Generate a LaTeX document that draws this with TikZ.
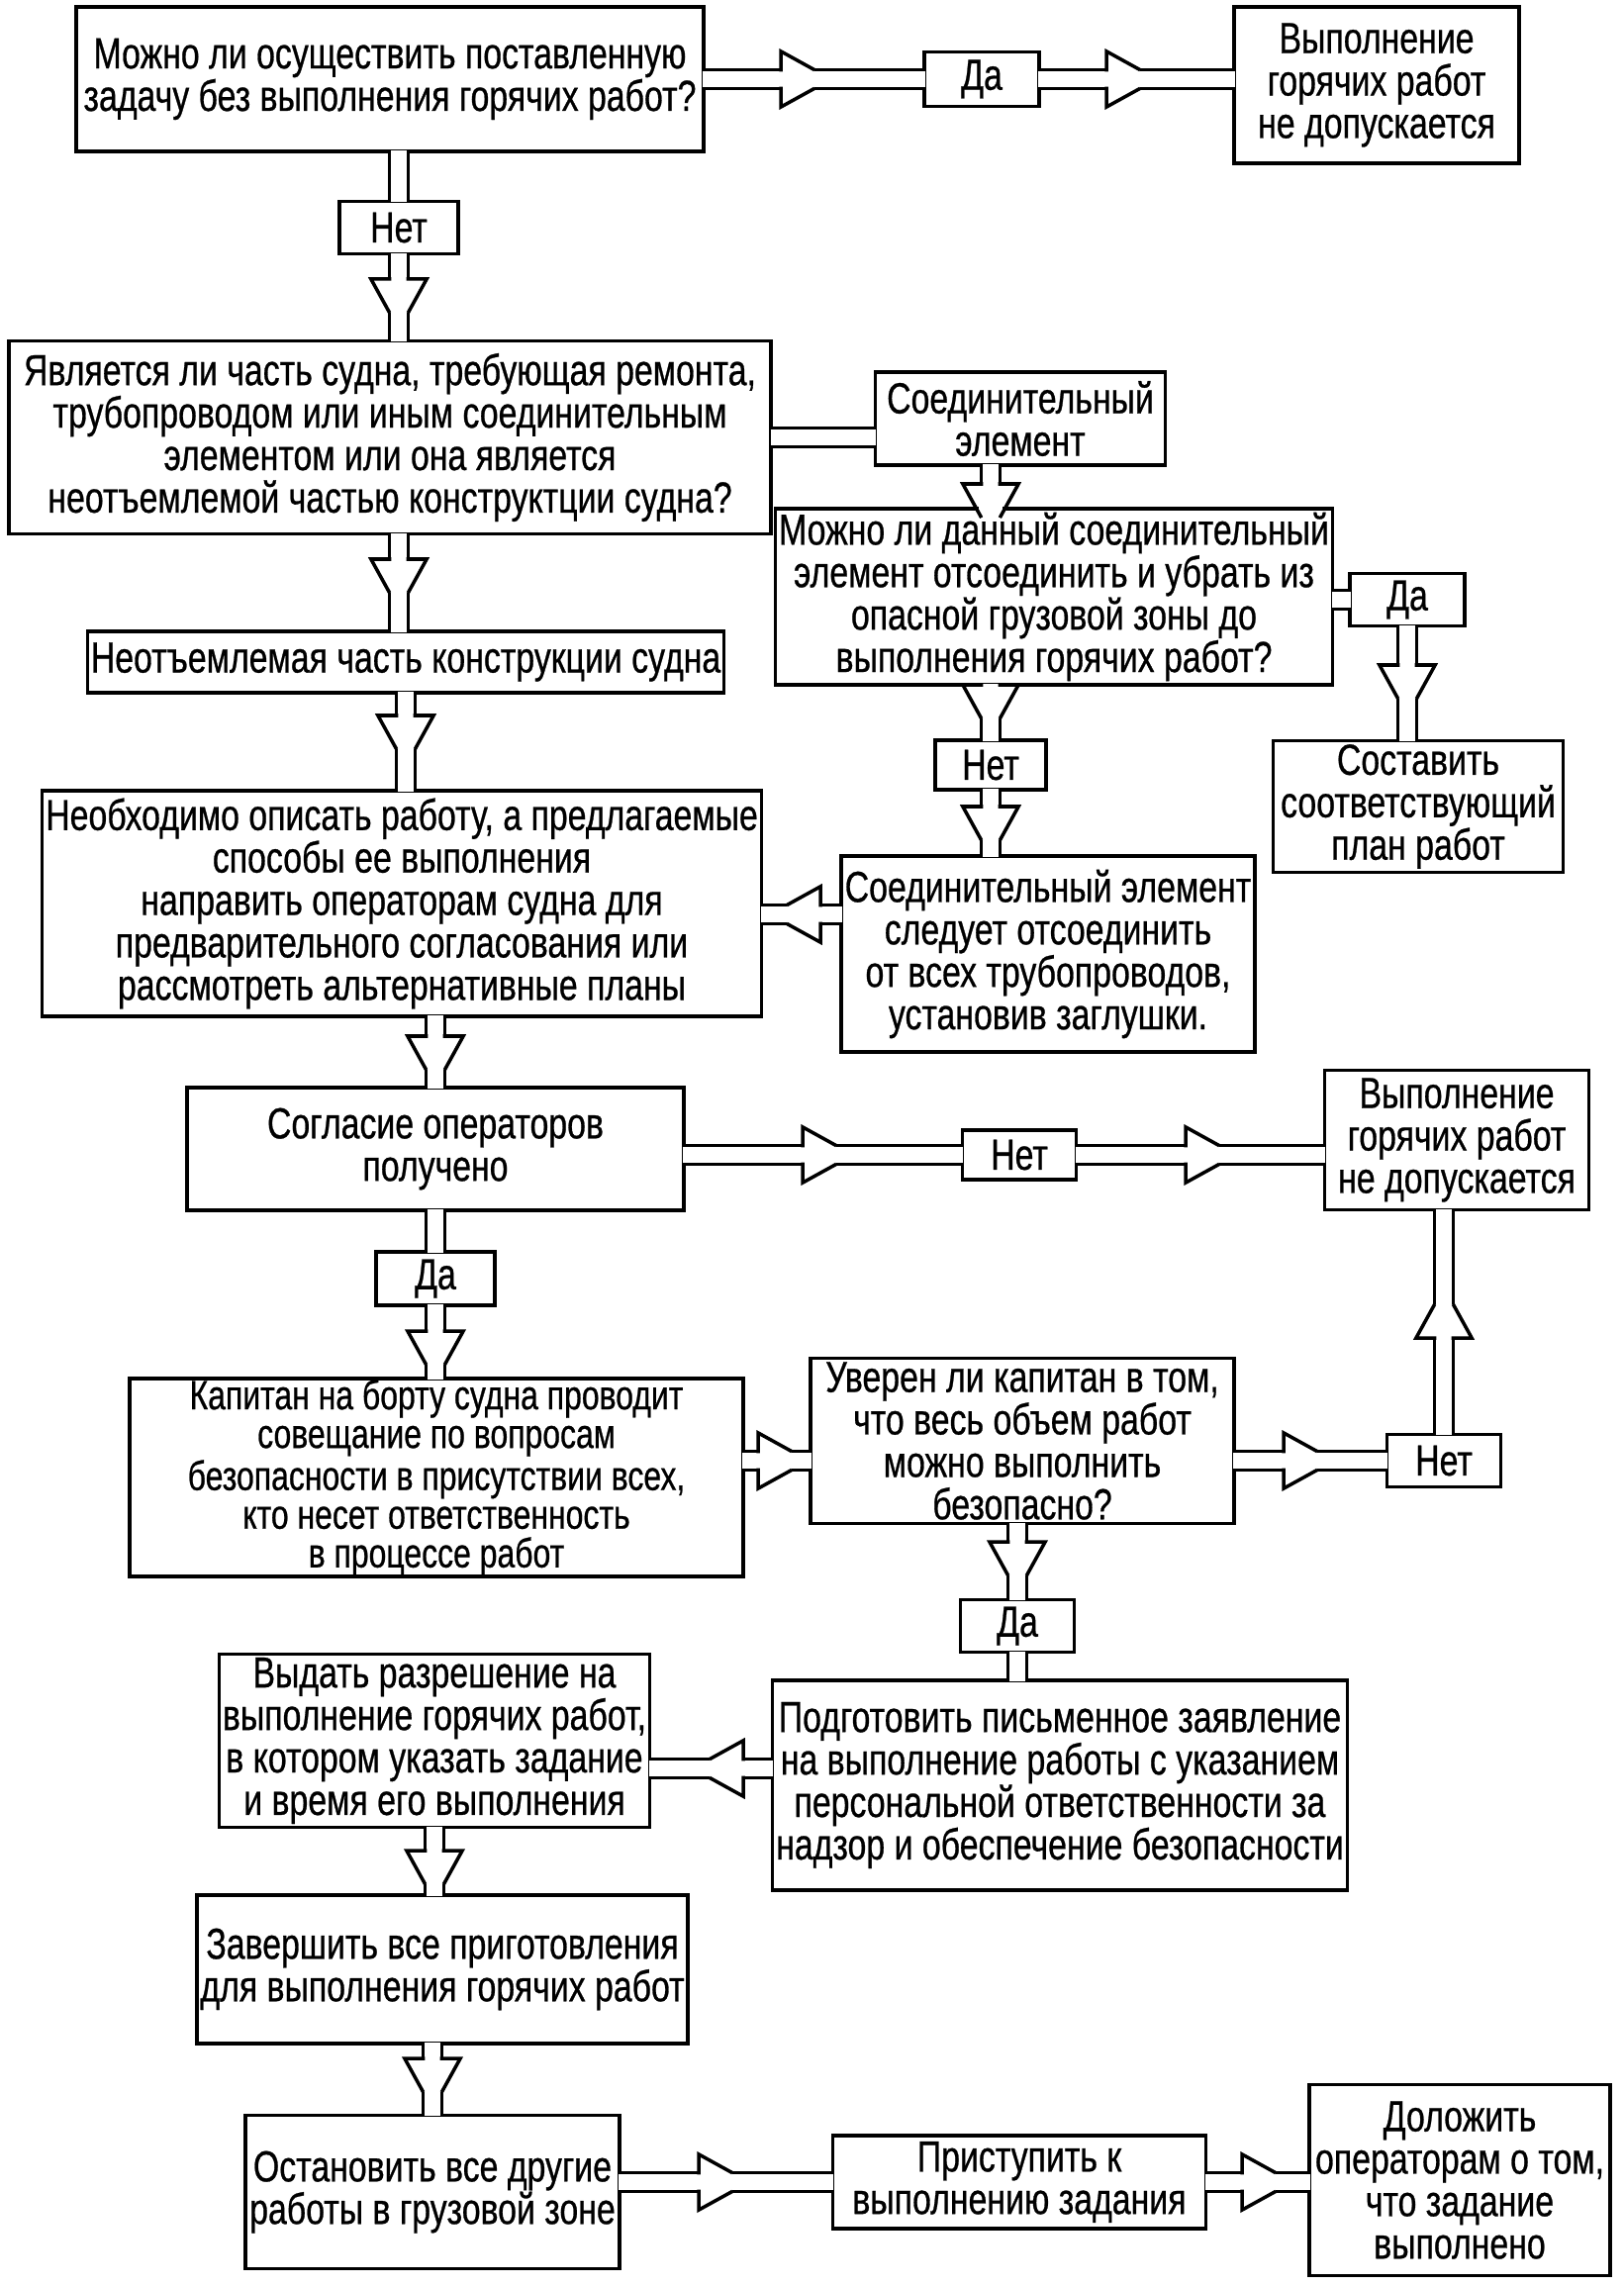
\documentclass[tikz,border=0pt]{standalone}
\usepackage{fontspec}
\setmainfont{Liberation Sans}[FakeStretch=0.77,FakeBold=0.6]

\begin{document}
\begin{tikzpicture}[x=0.01cm,y=-0.01cm,
    box/.style={draw,line width=1pt,align=center,inner sep=1pt,
      font=\fontsize{12.5}{12.2}\selectfont},
    conn/.style={double,double distance=4.3pt,line width=1pt,
      shorten <=-0.7pt,shorten >=-0.7pt},
    chev/.pic={
      \fill[white] (0,-3.3pt) rectangle (9.7pt,3.3pt);
      \draw[line width=1pt] (0,2.15pt) -- (0,8pt) -- (9.7pt,2.65pt)
        (0,-2.15pt) -- (0,-8pt) -- (9.7pt,-2.65pt);
    }]
    \useasboundingbox (0,0) rectangle (1640,2310);

    % upper part
    \node[box,minimum width=6.34cm,minimum height=1.46cm] (q1) at (394,80)
      {Можно ли осуществить поставленную\\задачу без выполнения горячих работ?};
    \node[box,minimum width=1.16cm,minimum height=0.55cm] (yes1) at (992,80) {Да};
    \node[box,minimum width=2.88cm,minimum height=1.58cm] (no1) at (1391,86)
      {Выполнение\\горячих работ\\не допускается};
    \node[box,minimum width=1.2cm,minimum height=0.53cm] (nnet1) at (403,230) {Нет};
    \node[box,minimum width=7.7cm,minimum height=1.95cm] (q2) at (394,442)
      {Является ли часть судна, требующая ремонта,\\трубопроводом или иным соединительным\\элементом или она является\\неотъемлемой частью конструктции судна?};
    \node[box,minimum width=2.93cm,minimum height=0.94cm] (conn) at (1031,423)
      {Соединительный\\элемент};
    \node[box,minimum width=5.46cm,minimum height=1.5cm] (q3) at (1065,603)
      {Можно ли данный соединительный\\элемент отсоединить и убрать из\\опасной грузовой зоны до\\выполнения горячих работ?};
    \node[box,minimum width=1.16cm,minimum height=0.53cm] (yes2) at (1422,606) {Да};
    \node[box,minimum width=2.93cm,minimum height=1.2cm] (plan) at (1433,815)
      {Составить\\соответствующий\\план работ};
    \node[box,minimum width=1.12cm,minimum height=0.5cm] (nnet2) at (1001,773) {Нет};
    \node[box,minimum width=3.86cm,minimum height=1.98cm] (sep) at (1059,964)
      {Соединительный элемент\\следует отсоединить\\от всех трубопроводов,\\установив заглушки.};
    \node[box,minimum width=6.22cm,minimum height=0.62cm] (integral) at (410,669)
      {Неотъемлемая часть конструкции судна};
    \node[box,minimum width=7.1cm,minimum height=2.28cm] (describe) at (406,913)
      {Необходимо описать работу, а предлагаемые\\способы ее выполнения\\направить операторам судна для\\предварительного согласования или\\рассмотреть альтернативные планы};

    % middle part
    \node[box,minimum width=5.02cm,minimum height=1.24cm] (agree) at (440,1161)
      {Согласие операторов\\получено};
    \node[box,minimum width=1.15cm,minimum height=0.5cm] (netA) at (1030,1167) {Нет};
    \node[box,minimum width=2.67cm,minimum height=1.41cm] (no2) at (1472,1152)
      {Выполнение\\горячих работ\\не допускается};
    \node[box,minimum width=1.2cm,minimum height=0.54cm] (yesA) at (440,1292) {Да};
    \node[box,minimum width=6.2cm,minimum height=2cm,inner sep=0pt,
      font=\fontsize{11.8}{11.1}\selectfont] (captain) at (441,1493)
      {Капитан на борту судна проводит\\совещание по вопросам\\безопасности в присутствии всех,\\кто несет ответственность\\в процессе работ};
    \node[box,minimum width=4.28cm,minimum height=1.67cm] (sure) at (1033,1456)
      {Уверен ли капитан в том,\\что весь объем работ\\можно выполнить\\безопасно?};
    \node[box,minimum width=1.15cm,minimum height=0.53cm] (netB) at (1459,1476) {Нет};
    \node[box,minimum width=1.15cm,minimum height=0.53cm] (yesB) at (1028,1643) {Да};

    % lower part
    \node[box,minimum width=5.68cm,minimum height=2.12cm] (prepare) at (1071,1804)
      {Подготовить письменное заявление\\на выполнение работы с указанием\\персональной ответственности за\\надзор и обеспечение безопасности};
    \node[box,minimum width=4.35cm,minimum height=1.75cm] (permit) at (439,1759)
      {Выдать разрешение на\\выполнение горячих работ,\\в котором указать задание\\и время его выполнения};
    \node[box,minimum width=4.86cm,minimum height=1.5cm] (finish) at (447,1990)
      {Завершить все приготовления\\для выполнения горячих работ};
    \node[box,minimum width=3.78cm,minimum height=1.55cm] (stop) at (437,2215)
      {Остановить все другие\\работы в грузовой зоне};
    \node[box,minimum width=3.77cm,minimum height=0.94cm] (begin) at (1030,2205)
      {Приступить к\\выполнению задания};
    \node[box,minimum width=3.04cm,minimum height=1.93cm] (report) at (1475,2203)
      {Доложить\\операторам о том,\\что задание\\выполнено};

    % connectors
    \draw[conn] (q1.east |- yes1.west) -- (yes1.west);
    \draw[conn] (yes1.east) -- (yes1.east -| no1.west);
    \draw[conn] (nnet1.north |- q1.south) -- (nnet1.north);
    \draw[conn] (nnet1.south) -- (nnet1.south |- q2.north);
    \draw[conn] (q2.east) -- (q2.east -| conn.west);
    \draw[conn] (nnet1.south |- q2.south) -- (nnet1.south |- integral.north);
    \draw[conn] (integral.south) -- (integral.south |- describe.north);
    \draw[conn] (nnet2.north |- conn.south) -- (nnet2.north |- q3.north);
    \draw[conn] (nnet2.north |- q3.south) -- (nnet2.north);
    \draw[conn] (nnet2.south) -- (nnet2.south |- sep.north);
    \draw[conn] (q3.east |- yes2.west) -- (yes2.west);
    \draw[conn] (yes2.south) -- (yes2.south |- plan.north);
    \draw[conn] ([yshift=0.4cm]sep.west) -- ([yshift=0.4cm]sep.west -| describe.east);
    \draw[conn] (agree.north |- describe.south) -- (agree.north);
    \draw[conn] (agree.east |- netA.west) -- (netA.west);
    \draw[conn] (netA.east) -- (netA.east -| no2.west);
    \draw[conn] (agree.south) -- (yesA.north);
    \draw[conn] (yesA.south) -- (yesA.south |- captain.north);
    \draw[conn] (captain.east |- netB.west) -- (sure.west |- netB.west);
    \draw[conn] (sure.east |- netB.west) -- (netB.west);
    \draw[conn] (netB.north) -- (netB.north |- no2.south);
    \draw[conn] (yesB.north |- sure.south) -- (yesB.north);
    \draw[conn] (yesB.south) -- (yesB.south |- prepare.north);
    \draw[conn] ([yshift=0.17cm]prepare.west) -- ([yshift=0.17cm]prepare.west -| permit.east);
    \draw[conn] (permit.south) -- (permit.south |- finish.north);
    \draw[conn] (stop.north |- finish.south) -- (stop.north);
    \draw[conn] (stop.east |- begin.west) -- (begin.west);
    \draw[conn] (begin.east) -- (begin.east -| report.west);

    % arrow heads on the connectors
    \foreach \x/\y/\r in {789/80/0, 1118/80/0, 403/282/-90, 403/565/-90,
        410/723/-90, 1001/489/-90, 1001/692/-90, 1001/815/-90, 1422/672/-90,
        829/924/180, 440/1047/-90, 811/1167/0, 1198/1167/0, 440/1345/-90,
        766/1476/0, 1297/1476/0, 1459/1352/90, 1028/1558/-90, 751/1787/180,
        439/1870/-90, 437/2080/-90, 706/2205/0, 1255/2205/0}
      \pic[rotate=\r] at (\x,\y) {chev};
\end{tikzpicture}
\end{document}
